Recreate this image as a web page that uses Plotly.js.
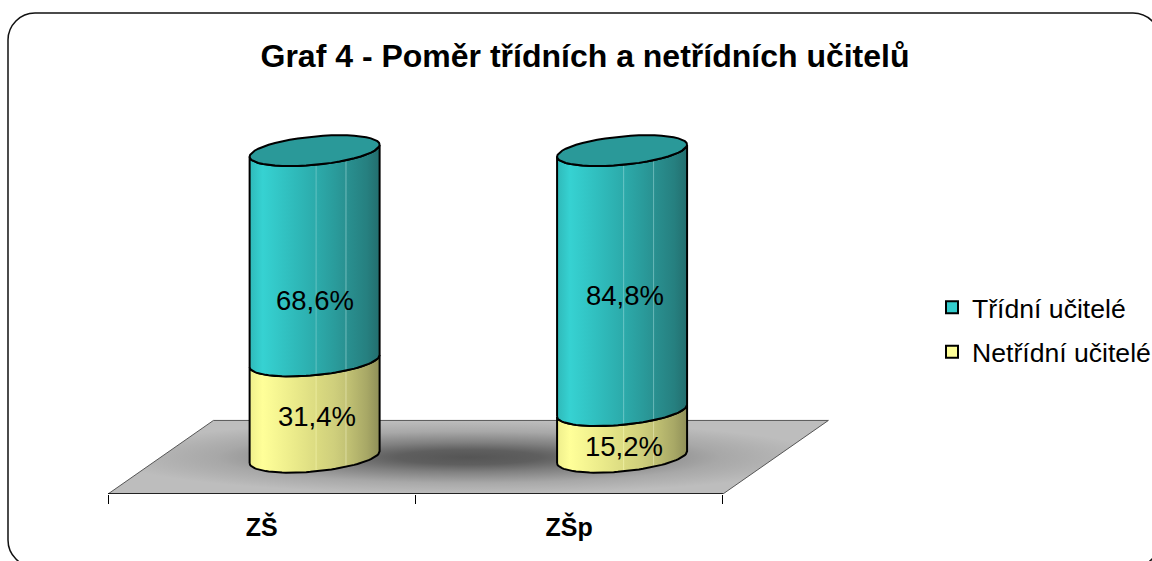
<!DOCTYPE html>
<html>
<head>
<meta charset="utf-8">
<script src="https://cdn.plot.ly/plotly-3.0.1.min.js"></script>
<style>html,body{margin:0;padding:0;background:#fff;overflow:hidden}#chart{width:1152px;height:561px}</style>
</head>
<body>
<div id="chart"></div>
<script>
const categories = ['ZŠ', 'ZŠp'];
const classTeachers = [68.6, 84.8];
const otherTeachers = [31.4, 15.2];
const seriesNames = ['Třídní učitelé', 'Netřídní učitelé'];
const chartTitle = 'Graf 4 - Poměr třídních a netřídních učitelů';

// label nudges in pixels per category
const upperLabelShiftY = [-45, -15];
const lowerLabelShiftY = [-7, -13];
const upperLabelShiftX = [0, 3];
const lowerLabelShiftX = [2, 2];

// pseudo-3D projection, in axis units
const depthX = 0.172, depthY = 12, floorDepthX = 0.343, floorDepthY = 24;
const radiusX = 0.2114, radiusY = 4.65, tilt = 1.95;

const tealScale = [[0,'#2fb9b9'],[0.1,'#36d2d2'],[0.35,'#2fbaba'],[0.505,'#2cabab'],[0.51,'#66c4c4'],[0.52,'#2caaaa'],[0.65,'#2a9c9c'],[0.735,'#299292'],[0.74,'#70bcbc'],[0.75,'#299090'],[0.9,'#268080'],[1,'#236e6e']];
const yellowScale = [[0,'#eeee8c'],[0.1,'#ffff99'],[0.35,'#eaea8a'],[0.505,'#dcdc82'],[0.51,'#ecec9e'],[0.52,'#dada80'],[0.65,'#cfcf7c'],[0.735,'#c4c476'],[0.74,'#dcdca0'],[0.75,'#c2c274'],[0.9,'#a8a866'],[1,'#8f8f58']];
const floorScale = [[0,'#555555'],[0.2,'#5f5f5f'],[0.4,'#808080'],[0.7,'#a8a8a8'],[1,'#bdbdbd']];

function arc(cx, cy, from, to) {
  const xs = [], ys = [], n = 48;
  for (let i = 0; i <= n; i++) {
    const t = from + (to - from) * i / n;
    xs.push(cx + radiusX * Math.cos(t));
    ys.push(cy + radiusY * Math.sin(t) + tilt * Math.cos(t));
  }
  return [xs, ys];
}
function body(cx, y0, y1, scale) {
  const [bx, by] = arc(cx, y0, Math.PI, 2 * Math.PI);
  const [tx, ty] = arc(cx, y1, 2 * Math.PI, Math.PI);
  return {x: bx.concat(tx, [bx[0]]), y: by.concat(ty, [by[0]]), type: 'scatter', mode: 'lines', fill: 'toself',
    fillgradient: {type: 'horizontal', colorscale: scale}, line: {color: '#000', width: 2},
    cliponaxis: false, showlegend: false, hoverinfo: 'skip'};
}

const centers = categories.map((_, i) => i + depthX);
const traces = [
  {type: 'bar', name: seriesNames[0], legendgroup: 'a', x: centers, y: classTeachers, base: otherTeachers.map(v => v + depthY), width: 0.2,
   marker: {color: '#33cccc', line: {color: '#000', width: 2}}, hoverinfo: 'skip'},
  {type: 'bar', name: seriesNames[1], legendgroup: 'b', x: centers, y: otherTeachers, base: otherTeachers.map(() => depthY), width: 0.2,
   marker: {color: '#ffff99', line: {color: '#000', width: 2}}, hoverinfo: 'skip'},
  {x: [-0.5, 1.5, 1.5 + floorDepthX, -0.5 + floorDepthX, -0.5], y: [0, 0, floorDepthY, floorDepthY, 0],
   type: 'scatter', mode: 'lines', fill: 'toself',
   fillgradient: {type: 'radial', colorscale: floorScale}, line: {color: '#555', width: 1},
   cliponaxis: false, showlegend: false, hoverinfo: 'skip'},
  {x: [-0.5, 1.5], y: [0, 0], type: 'scatter', mode: 'lines', line: {color: '#000', width: 1.5},
   cliponaxis: false, showlegend: false, hoverinfo: 'skip'}
];
categories.forEach((_, i) => {
  const split = depthY + otherTeachers[i], top = split + classTeachers[i];
  traces.push(body(centers[i], depthY, split, yellowScale));
  traces.push(body(centers[i], split, top, tealScale));
  const [ex, ey] = arc(centers[i], top, 0, 2 * Math.PI);
  traces.push({x: ex, y: ey, type: 'scatter', mode: 'lines', fill: 'toself', fillcolor: '#2a9999',
    line: {color: '#000', width: 2}, cliponaxis: false, showlegend: false, hoverinfo: 'skip'});
});

const fmt = v => v.toFixed(1).replace('.', ',') + '%';
const labelFont = {family: 'Liberation Sans, Arial, sans-serif', size: 27.5, color: '#000'};
const annotations = [];
categories.forEach((_, i) => {
  annotations.push({x: centers[i], y: depthY + otherTeachers[i] + classTeachers[i] / 2, text: fmt(classTeachers[i]),
    showarrow: false, xshift: upperLabelShiftX[i], yshift: upperLabelShiftY[i], font: labelFont});
  annotations.push({x: centers[i], y: depthY + otherTeachers[i] / 2, text: fmt(otherTeachers[i]),
    showarrow: false, xshift: lowerLabelShiftX[i], yshift: lowerLabelShiftY[i], font: labelFont});
});

const W = 1152, H = 561, mL = 108, mR = 323, mT = 120, mB = 67;
const px = v => (v - mL) / (W - mL - mR), py = v => (H - mB - v) / (H - mT - mB);
const bL = 8, bT = 13, bR = 1160, bB = 567, r = 27, c = r * 0.45;
const border = `M${bL},${bT + r} C${bL},${bT + c} ${bL + c},${bT} ${bL + r},${bT} L${bR - r},${bT} C${bR - c},${bT} ${bR},${bT + c} ${bR},${bT + r} L${bR},${bB - r} C${bR},${bB - c} ${bR - c},${bB} ${bR - r},${bB} L${bL + r},${bB} C${bL + c},${bB} ${bL},${bB - c} ${bL},${bB - r} Z`;

const layout = {
  width: W, height: H, paper_bgcolor: '#fff', plot_bgcolor: 'rgba(0,0,0,0)',
  margin: {l: mL, r: mR, t: mT, b: mB, pad: 0, autoexpand: false},
  font: {family: 'Liberation Sans, Arial, sans-serif', color: '#000'},
  title: {text: '<b>' + chartTitle + '</b>', x: 585 / W, xanchor: 'center', y: 1 - 56 / H, yanchor: 'middle',
          font: {size: 32, color: '#000'}},
  barmode: 'overlay',
  xaxis: {range: [-0.5, 1.845], tickmode: 'array', tickvals: categories.map((_, i) => i), ticktext: categories.map(c => '<b>' + c + '</b>'),
          ticks: '', tickfont: {size: 25, color: '#000'}, ticklabelstandoff: 16, showgrid: false, zeroline: false,
          showline: false,
          minor: {tickmode: 'array', tickvals: [-0.5, 0.5, 1.5], ticks: 'outside', ticklen: 9, tickcolor: '#000', tickwidth: 1, showgrid: false}},
  yaxis: {range: [0, 122], visible: false, showgrid: false, zeroline: false},
  legend: {x: px(932), xanchor: 'left', y: py(330), yanchor: 'middle', bgcolor: 'rgba(0,0,0,0)',
           font: {size: 26.6, color: '#000'}, tracegroupgap: 7, itemclick: false, itemdoubleclick: false},
  annotations: annotations,
  shapes: [{type: 'path', xref: 'x domain', yref: 'y domain', layer: 'above', line: {color: '#111', width: 1.5},
            path: border.replace(/(-?\d+(\.\d+)?),(-?\d+(\.\d+)?)/g, (m, a, _, b) => px(+a) + ',' + py(+b))}],
  showlegend: true
};
Plotly.newPlot('chart', traces, layout, {displayModeBar: false, responsive: false});
</script>
</body>
</html>
